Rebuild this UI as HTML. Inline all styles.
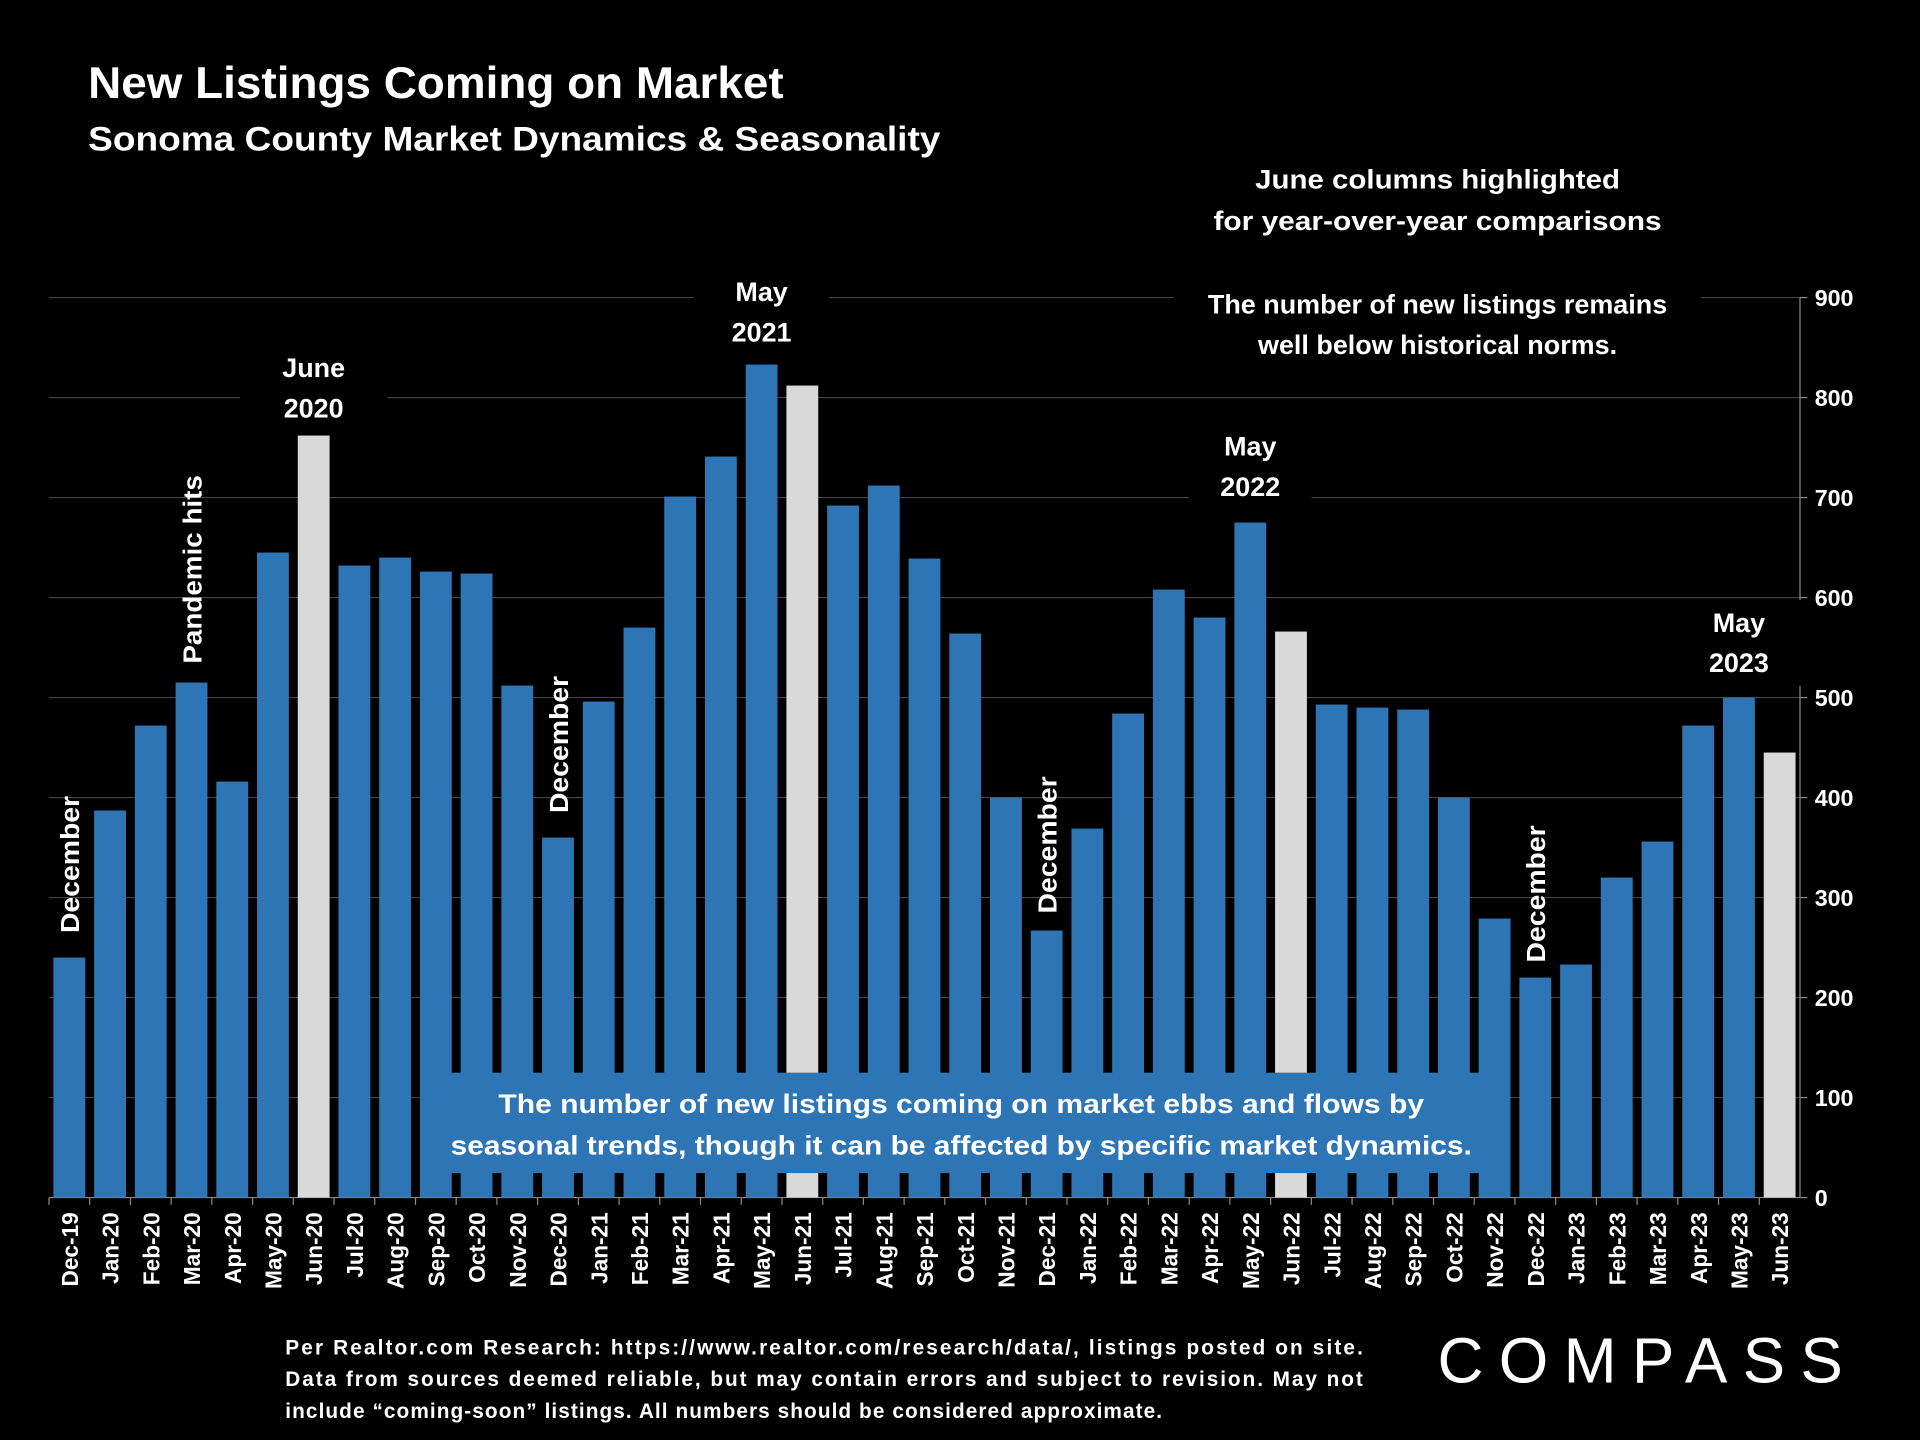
<!DOCTYPE html>
<html><head><meta charset="utf-8"><style>
html,body{margin:0;padding:0;background:#000;}
svg{display:block;}
text{font-family:"Liberation Sans",sans-serif;fill:#fff;font-weight:bold;}
</style></head><body>
<svg id="chart" width="1920" height="1440" viewBox="0 0 1568 1176" xmlns="http://www.w3.org/2000/svg">
<rect width="1568" height="1176" fill="#000"/>
<g id="grid"></g>
<g id="bars"></g>
<g id="annot"></g>
<text x="72" y="80" font-size="36" textLength="568" lengthAdjust="spacingAndGlyphs">New Listings Coming on Market</text>
<text x="72" y="123" font-size="28" textLength="696" lengthAdjust="spacingAndGlyphs">Sonoma County Market Dynamics &amp; Seasonality</text>
<text text-anchor="middle" font-size="22"><tspan x="1174" y="154" textLength="298" lengthAdjust="spacingAndGlyphs">June columns highlighted</tspan><tspan x="1174" y="188" textLength="366" lengthAdjust="spacingAndGlyphs">for year-over-year comparisons</tspan></text>
<rect x="345" y="876" width="887" height="82" fill="#2e75b6"/>
<text text-anchor="middle" font-size="22"><tspan x="785" y="909" textLength="756" lengthAdjust="spacingAndGlyphs">The number of new listings coming on market ebbs and flows by</tspan><tspan x="785" y="943" textLength="834" lengthAdjust="spacingAndGlyphs">seasonal trends, though it can be affected by specific market dynamics.</tspan></text>
<text font-size="17"><tspan x="233" y="1106" textLength="880" lengthAdjust="spacing">Per Realtor.com Research:  https://www.realtor.com/research/data/, listings posted on site.</tspan><tspan x="233" y="1132" textLength="880" lengthAdjust="spacing">Data from sources deemed reliable, but may contain errors and subject to revision. May not</tspan><tspan x="233" y="1158" textLength="716" lengthAdjust="spacing">include “coming-soon” listings. All numbers should be considered approximate.</tspan></text>
<text x="1174" y="1129" font-size="52" style="font-weight:normal" textLength="331" lengthAdjust="spacing">COMPASS</text>
</svg>
<script>
const categories=["Dec-19","Jan-20","Feb-20","Mar-20","Apr-20","May-20","Jun-20","Jul-20","Aug-20","Sep-20","Oct-20","Nov-20","Dec-20","Jan-21","Feb-21","Mar-21","Apr-21","May-21","Jun-21","Jul-21","Aug-21","Sep-21","Oct-21","Nov-21","Dec-21","Jan-22","Feb-22","Mar-22","Apr-22","May-22","Jun-22","Jul-22","Aug-22","Sep-22","Oct-22","Nov-22","Dec-22","Jan-23","Feb-23","Mar-23","Apr-23","May-23","Jun-23"];
const values=[240,387,472,515,416,645,762,632,640,626,624,512,360,496,570,701,741,833,812,692,712,639,564,400,267,369,484,608,580,675,566,493,490,488,400,279,220,233,320,356,472,500,445];
const yTicks=[0,100,200,300,400,500,600,700,800,900];
const NS="http://www.w3.org/2000/svg";
const x0=40,x1=1470,y0=978,y1=243;
const step=(x1-x0)/categories.length;
const xc=i=>x0+step*(i+0.5);
const yv=v=>y0-(v/900)*(y0-y1);
function mk(t,a,p){const e=document.createElementNS(NS,t);for(const k in a)e.setAttribute(k,a[k]);p.appendChild(e);return e;}
const grid=document.getElementById('grid'),bars=document.getElementById('bars'),an=document.getElementById('annot');
yTicks.forEach(v=>{
 const l=mk('line',{x1:x0,x2:x1,y1:yv(v),y2:yv(v),stroke:v?'#444':'#888','stroke-width':1},grid);
 
 
 mk('line',{x1:x1,x2:x1+6,y1:yv(v),y2:yv(v),stroke:'#888'},grid);
 const t=mk('text',{x:x1+12,y:yv(v)+7,'font-size':19},grid);t.textContent=v;
 
 
});
mk('line',{x1:x1,x2:x1,y1:y1,y2:y0,stroke:'#888'},grid);
categories.forEach((c,i)=>{
 const v=values[i],w=26;
 const r=mk('rect',{x:xc(i)-w/2,y:yv(v),width:w,height:y0-yv(v),fill:c.startsWith('Jun')?'#d9d9d9':'#2e75b6'},bars);
 
 
 mk('line',{x1:x0+step*i,x2:x0+step*i,y1:y0,y2:y0+6,stroke:'#888'},grid);
 const t=mk('text',{x:0,y:0,'font-size':18.5,'text-anchor':'end',transform:`translate(${xc(i)+7},${y0+12}) rotate(-90)`},grid);
 t.textContent=c;
 
 
});
function label(lines,cx,ytop,name,bw){
 const g=mk('g',{},an);
 
 
 mk('rect',{x:cx-bw/2,y:ytop-4,width:bw,height:lines.length*32+6,fill:'#000'},g);
 lines.forEach((s,k)=>{const t=mk('text',{x:cx,y:ytop+22+k*33,'font-size':22,'text-anchor':'middle'},g);t.textContent=s;});
}
label(["June","2020"],xc(6),286,'june-2020-label',120);
label(["May","2021"],xc(17),224,'may-2021-label',110);
label(["May","2022"],xc(29),350,'may-2022-label',100);
label(["May","2023"],xc(41),494,'may-2023-label',110);
label(["The number of new listings remains","well below historical norms."],1174,234,'norms-note',430);
function vlabel(s,i,ybase,len,name){
 const t=mk('text',{x:0,y:0,'font-size':21,textLength:len,lengthAdjust:'spacingAndGlyphs',transform:`translate(${xc(i)+8},${ybase}) rotate(-90)`},an);
 t.textContent=s;
 
 
}
vlabel("December",0,762,112,'december-2019-label');
vlabel("Pandemic hits",3,542,154,'pandemic-label');
vlabel("December",12,664,112,'december-2020-label');
vlabel("December",24,746,112,'december-2021-label');
vlabel("December",36,786,112,'december-2022-label');
</script>
</body></html>
